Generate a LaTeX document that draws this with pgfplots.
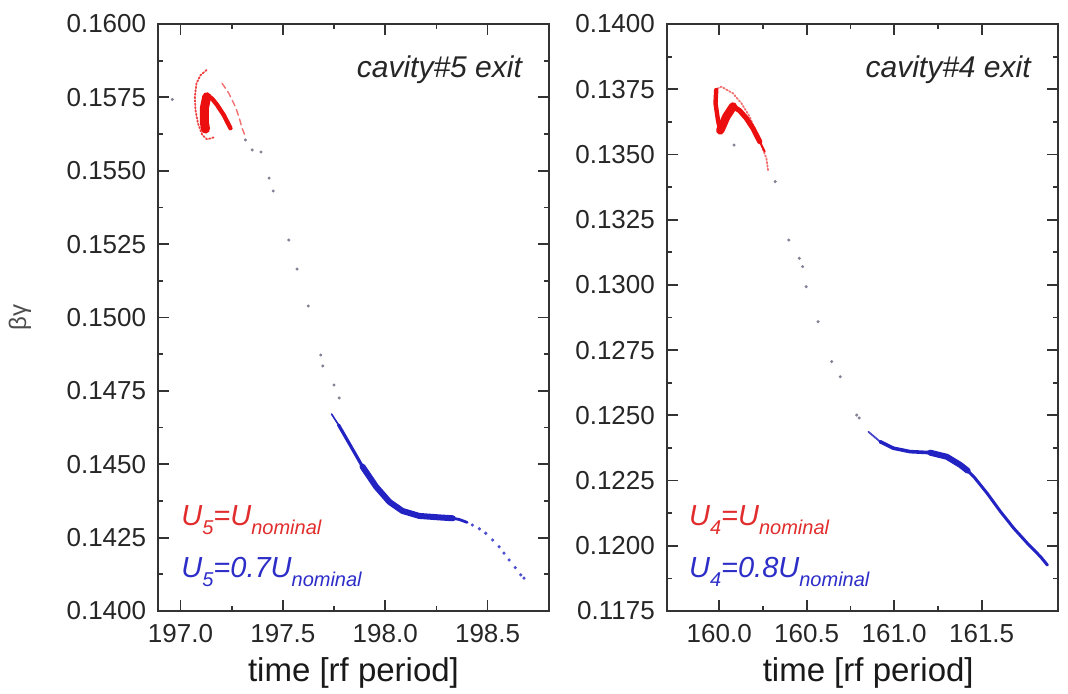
\documentclass[border=0pt]{standalone}
\usepackage{pgfplots}
\pgfplotsset{compat=1.18}
\usepackage{fontspec}
\setmainfont{Liberation Sans}
\definecolor{dred}{RGB}{235,15,15}
\definecolor{dblue}{RGB}{35,35,195}
\definecolor{tred}{RGB}{225,45,45}
\definecolor{tblue}{RGB}{45,45,200}
\definecolor{dotgray}{RGB}{130,130,150}
\pgfplotsset{
  myax/.style={
    scale only axis, width=195.5pt, height=293.5pt,
    axis line style={line width=0.9pt, black!80},
    tick align=inside, tick pos=both, ticklabel pos=left,
    major tick length=5.5pt, minor tick length=2.5pt,
    every tick/.style={line width=0.9pt, black!80},
    minor x tick num=1, minor y tick num=1,
    scaled ticks=false,
    /pgf/number format/assume math mode=true,
    ticklabel style={font=\fontsize{13}{15}\selectfont, text=black!85},
    xticklabel style={yshift=-3pt, /pgf/number format/fixed, /pgf/number format/fixed zerofill, /pgf/number format/precision=1},
    yticklabel style={xshift=-2.4pt, /pgf/number format/fixed, /pgf/number format/fixed zerofill, /pgf/number format/precision=4},
    xlabel={time [rf period]},
    xlabel style={font=\fontsize{16.5}{18}\selectfont, text=black!90, at={(axis description cs:0.5,0)}, anchor=center, yshift=-31pt},
    clip=true,
  },
  thinline/.style={no marks, line width=0.7pt, line join=round, line cap=round},
}
\newcommand{\sub}[1]{\raisebox{-4.5pt}{\fontsize{10}{11}\selectfont #1}}
\begin{document}
\begin{tikzpicture}
\path[use as bounding box] (-79pt,-41pt) rectangle (455pt,305.5pt);
% ---------------- left panel ----------------
\begin{axis}[myax, at={(0pt,0pt)},
  xmin=196.89, xmax=198.80, ymin=0.1400, ymax=0.1600,
  xtick={197.0,197.5,198.0,198.5},
  ytick={0.1400,0.1425,0.1450,0.1475,0.1500,0.1525,0.1550,0.1575,0.1600},
  ylabel={βγ},
  ylabel style={font=\fontsize{12}{14}\selectfont, text=black!70, at={(axis description cs:-0.353,0.5)}, anchor=center},
]
% outer thin red arc
\addplot[thinline, dred!80, densely dotted, line width=0.9pt] coordinates {
 (197.127,0.15843) (197.098,0.15826) (197.078,0.15798) (197.070,0.15752)
 (197.073,0.15707) (197.085,0.15662) (197.106,0.15622) (197.130,0.15607) (197.163,0.15614)};
% inner dashed arc
\addplot[thinline, dred!60, densely dashed, line width=0.7pt] coordinates {
 (197.203,0.15798) (197.236,0.15764) (197.268,0.15718) (197.285,0.15684) (197.301,0.15645) (197.317,0.15616)};
% core column
\addplot[no marks, dred, line width=4.5pt, line cap=round, line join=round] coordinates {
 (197.128,0.15752) (197.117,0.15715) (197.116,0.15668) (197.122,0.15642)};
% core ribbon
\addplot[no marks, dred, line width=2.2pt, line cap=round, line join=round] coordinates {
 (197.130,0.15758) (197.155,0.15745) (197.179,0.15724) (197.211,0.15690) (197.236,0.15656) (197.244,0.15645)};
% sparse transit dots
\addplot[only marks, mark=*, mark size=0.55pt, dotgray] coordinates {
 (196.96,0.15743) (197.317,0.15605) (197.35,0.15571) (197.393,0.15564) (197.433,0.15475) (197.453,0.15431)
 (197.529,0.15264) (197.569,0.15165) (197.624,0.15039) (197.685,0.14872) (197.695,0.14835)
 (197.750,0.14770) (197.775,0.14726)};
% blue band
\addplot[no marks, dblue, line width=0.8pt, line cap=round] coordinates {
 (197.738,0.14671) (197.772,0.14634)};
\addplot[no marks, dblue, line width=1.6pt, line cap=round, line join=round] coordinates {
 (197.772,0.14634) (197.824,0.14571) (197.889,0.14492)};
\addplot[no marks, dblue, line width=3.0pt, line cap=round, line join=round] coordinates {
 (197.889,0.14492) (197.955,0.14424) (198.020,0.14372) (198.084,0.14341) (198.166,0.14324) (198.263,0.14319) (198.330,0.14316)};
\addplot[no marks, dblue, line width=1.4pt, line cap=round, line join=round] coordinates {
 (198.330,0.14316) (198.361,0.14312) (198.400,0.14302)};
\addplot[only marks, mark=*, mark size=0.6pt, dblue!80] coordinates {
 (198.426,0.14293) (198.460,0.14280) (198.491,0.14265) (198.525,0.14242) (198.556,0.14219)
 (198.580,0.14197) (198.605,0.14174) (198.635,0.14148) (198.662,0.14123) (198.678,0.14112)};
\node[anchor=east, font=\fontsize{15}{17}\selectfont\itshape, text=black!85] at (rel axis cs:1,1) [xshift=-10pt, yshift=-23pt] {cavity\#5 exit};
\node[anchor=base west, inner sep=0pt, font=\fontsize{14.5}{16}\selectfont\itshape, text=tred] at (rel axis cs:0,0) [xshift=11.5pt, yshift=42.6pt] {U\sub{5}=U\sub{nominal}};
\node[anchor=base west, inner sep=0pt, font=\fontsize{14.5}{16}\selectfont\itshape, text=tblue] at (rel axis cs:0,0) [xshift=11.5pt, yshift=16.8pt] {U\sub{5}=0.7U\sub{nominal}};
\end{axis}
% ---------------- right panel ----------------
\begin{axis}[myax, at={(254.35pt,0pt)},
  xmin=159.70, xmax=161.935, ymin=0.1175, ymax=0.1400,
  xtick={160.0,160.5,161.0,161.5},
  ytick={0.1175,0.1200,0.1225,0.1250,0.1275,0.1300,0.1325,0.1350,0.1375,0.1400},
  xlabel style={xshift=3pt},
]
% outer faint arc
\addplot[thinline, dred!60, densely dotted, line width=0.9pt] coordinates {
 (159.990,0.13752) (160.012,0.13760) (160.079,0.13734) (160.127,0.13696) (160.174,0.13645)
 (160.222,0.13568) (160.270,0.13485) (160.279,0.13440)};
% left stroke
\addplot[no marks, dred, line width=2.2pt, line cap=round, line join=round] coordinates {
 (159.983,0.13747) (159.979,0.13696) (159.993,0.13632) (160.006,0.13590)};
% thick rise
\addplot[no marks, dred, line width=4.2pt, line cap=round, line join=round] coordinates {
 (160.006,0.13592) (160.041,0.13645) (160.079,0.13684)};
% descending ribbon
\addplot[no marks, dred, line width=2.6pt, line cap=round, line join=round] coordinates {
 (160.079,0.13684) (160.117,0.13668) (160.155,0.13639) (160.193,0.13600) (160.232,0.13549)};
\addplot[no marks, dred, line width=1.0pt, line cap=round] coordinates {
 (160.232,0.13549) (160.260,0.13511)};
% transit dots
\addplot[only marks, mark=*, mark size=0.55pt, dotgray] coordinates {
 (160.085,0.13536) (160.320,0.13396) (160.398,0.13172) (160.458,0.13102) (160.477,0.13070)
 (160.497,0.12993) (160.565,0.12859) (160.643,0.12706) (160.692,0.12648) (160.786,0.12501) (160.800,0.12490)};
% blue band
\addplot[no marks, dblue!85, line width=0.9pt, line cap=round] coordinates {
 (160.853,0.12437) (160.920,0.12399)};
\addplot[no marks, dblue, line width=1.8pt, line cap=round, line join=round] coordinates {
 (160.920,0.12399) (160.996,0.12374) (161.091,0.12361) (161.206,0.12357)};
\addplot[no marks, dblue, line width=3.0pt, line cap=round, line join=round] coordinates {
 (161.206,0.12357) (161.302,0.12341) (161.378,0.12310) (161.420,0.12288)};
\addplot[no marks, dblue, line width=1.5pt, line cap=round, line join=round] coordinates {
 (161.420,0.12288) (161.455,0.12265) (161.532,0.12201) (161.608,0.12131) (161.684,0.12067)
 (161.761,0.12010) (161.837,0.11958) (161.876,0.11926)};
\node[anchor=east, font=\fontsize{15}{17}\selectfont\itshape, text=black!85] at (rel axis cs:1,1) [xshift=-10pt, yshift=-23pt] {cavity\#4 exit};
\node[anchor=base west, inner sep=0pt, font=\fontsize{14.5}{16}\selectfont\itshape, text=tred] at (rel axis cs:0,0) [xshift=11pt, yshift=42.6pt] {U\sub{4}=U\sub{nominal}};
\node[anchor=base west, inner sep=0pt, font=\fontsize{14.5}{16}\selectfont\itshape, text=tblue] at (rel axis cs:0,0) [xshift=11pt, yshift=16.8pt] {U\sub{4}=0.8U\sub{nominal}};
\end{axis}
\end{tikzpicture}
\end{document}
